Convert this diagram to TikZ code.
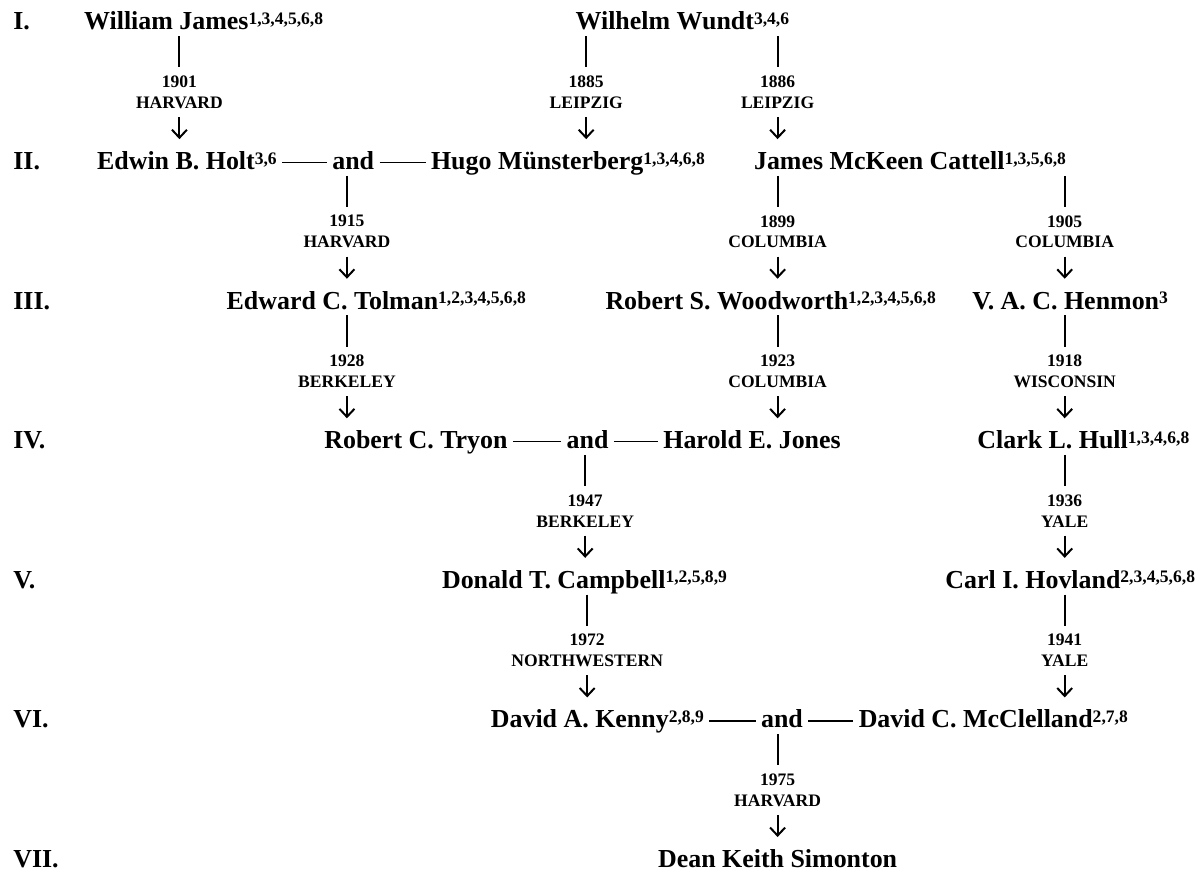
\documentclass[tikz,border=0pt]{standalone}
\usepackage{fontspec}
\setmainfont{Liberation Serif}
\usepackage{xcolor}
\usepackage{tikz}
\usetikzlibrary{arrows.meta}
\definecolor{ink}{HTML}{000000}
\newcommand{\authsup}[1]{\raisebox{2.7pt}{\fontsize{8.8}{9}\selectfont #1}}

\begin{document}
\begin{tikzpicture}[x=0.5pt, y=-0.5pt, every node/.style={color=ink, font=\bfseries\fontsize{13}{15}\selectfont},
  person/.style={anchor=base west, inner xsep=2.5pt, inner ysep=0pt, text height=15pt, text depth=3pt},
  gen/.style={anchor=base west, inner sep=0pt},
  when/.style={font=\bfseries\fontsize{8.8}{10.5}\selectfont, align=center, inner xsep=0pt, inner ysep=4pt},
  link/.style={ink, line width=1pt},
  pair/.style={ink, line width=0.75pt},
  descent/.style={ink, line width=1pt, -{Straight Barb[length=4pt,width=7.5pt]}}]
  \fill[white] (0,0) rectangle (1200,871);

  \node[gen] (g1) at (13,27) {I.};
  \node[gen] (g2) at (13,167) {II.};
  \node[gen] (g3) at (13,307) {III.};
  \node[gen] (g4) at (13,447) {IV.};
  \node[gen] (g5) at (13,587) {V.};
  \node[gen] (g6) at (13,727) {VI.};
  \node[gen] (g7) at (13,867) {VII.};

  \node[person] (james) at (79,27) {William James\authsup{1,3,4,5,6,8}};
  \node[person] (wundt) at (572,27) {Wilhelm Wundt\authsup{3,4,6}};

  \node[person] (holt) at (92,167) {Edwin B. Holt\authsup{3,6}};
  \node[person] (and1) at (328,167) {and};
  \node[person] (munst) at (427,167) {Hugo Münsterberg\authsup{1,3,4,6,8}};
  \node[person] (cattell) at (751,167) {James McKeen Cattell\authsup{1,3,5,6,8}};

  \node[person] (tolman) at (222,307) {Edward C. Tolman\authsup{1,2,3,4,5,6,8}};
  \node[person] (woodw) at (602,307) {Robert S. Woodworth\authsup{1,2,3,4,5,6,8}};
  \node[person] (henmon) at (970,307) {V. A. C. Henmon\authsup{3}};

  \node[person] (tryon) at (320,447) {Robert C. Tryon};
  \node[person] (and2) at (563,447) {and};
  \node[person] (jones) at (660,447) {Harold E. Jones};
  \node[person] (hull) at (975,447) {Clark L. Hull\authsup{1,3,4,6,8}};

  \node[person] (campbell) at (438,587) {Donald T. Campbell\authsup{1,2,5,8,9}};
  \node[person] (hovland) at (943,587) {Carl I. Hovland\authsup{2,3,4,5,6,8}};

  \node[person] (kenny) at (487,727) {David A. Kenny\authsup{2,8,9}};
  \node[person] (and3) at (758,727) {and};
  \node[person] (mccl) at (856,727) {David C. McClelland\authsup{2,7,8}};

  \node[person, anchor=base] (simonton) at (780,867) {Dean Keith Simonton};

  \node[when] (y1901) at (180,89.5) {1901\\HARVARD};
  \node[when] (y1885) at (588,89.5) {1885\\LEIPZIG};
  \node[when] (y1886) at (780,89.5) {1886\\LEIPZIG};
  \node[when] (y1915) at (348,229.5) {1915\\HARVARD};
  \node[when] (y1899) at (780,229.5) {1899\\COLUMBIA};
  \node[when] (y1905) at (1068,229.5) {1905\\COLUMBIA};
  \node[when] (y1928) at (348,369.5) {1928\\BERKELEY};
  \node[when] (y1923) at (780,369.5) {1923\\COLUMBIA};
  \node[when] (y1918) at (1068,369.5) {1918\\WISCONSIN};
  \node[when] (y1947) at (587,509.5) {1947\\BERKELEY};
  \node[when] (y1936) at (1068,509.5) {1936\\YALE};
  \node[when] (y1972) at (589,649.5) {1972\\NORTHWESTERN};
  \node[when] (y1941) at (1068,649.5) {1941\\YALE};
  \node[when] (y1975) at (780,789.5) {1975\\HARVARD};

  \draw[pair] ([yshift=3.5pt]holt.base east) -- ([yshift=3.5pt]and1.base west);
  \draw[pair] ([yshift=3.5pt]and1.base east) -- ([yshift=3.5pt]munst.base west);
  \draw[pair] ([yshift=3.5pt]tryon.base east) -- ([yshift=3.5pt]and2.base west);
  \draw[pair] ([yshift=3.5pt]and2.base east) -- ([yshift=3.5pt]jones.base west);
  \draw[pair] ([yshift=3.5pt]kenny.base east) -- ([yshift=3.5pt]and3.base west);
  \draw[pair] ([yshift=3.5pt]and3.base east) -- ([yshift=3.5pt]mccl.base west);

  \draw[link] (y1901.north |- james.south) -- (y1901.north);
  \draw[descent] (y1901.south) -- (y1901.south |- holt.north);
  \draw[link] (y1885.north |- wundt.south) -- (y1885.north);
  \draw[descent] (y1885.south) -- (y1885.south |- munst.north);
  \draw[link] (y1886.north |- wundt.south) -- (y1886.north);
  \draw[descent] (y1886.south) -- (y1886.south |- cattell.north);

  \draw[link] (y1915.north |- and1.south) -- (y1915.north);
  \draw[descent] (y1915.south) -- (y1915.south |- tolman.north);
  \draw[link] (y1899.north |- cattell.south) -- (y1899.north);
  \draw[descent] (y1899.south) -- (y1899.south |- woodw.north);
  \draw[link] (y1905.north |- cattell.south) -- (y1905.north);
  \draw[descent] (y1905.south) -- (y1905.south |- henmon.north);

  \draw[link] (y1928.north |- tolman.south) -- (y1928.north);
  \draw[descent] (y1928.south) -- (y1928.south |- tryon.north);
  \draw[link] (y1923.north |- woodw.south) -- (y1923.north);
  \draw[descent] (y1923.south) -- (y1923.south |- jones.north);
  \draw[link] (y1918.north |- henmon.south) -- (y1918.north);
  \draw[descent] (y1918.south) -- (y1918.south |- hull.north);

  \draw[link] (y1947.north |- and2.south) -- (y1947.north);
  \draw[descent] (y1947.south) -- (y1947.south |- campbell.north);
  \draw[link] (y1936.north |- hull.south) -- (y1936.north);
  \draw[descent] (y1936.south) -- (y1936.south |- hovland.north);

  \draw[link] (y1972.north |- campbell.south) -- (y1972.north);
  \draw[descent] (y1972.south) -- (y1972.south |- kenny.north);
  \draw[link] (y1941.north |- hovland.south) -- (y1941.north);
  \draw[descent] (y1941.south) -- (y1941.south |- mccl.north);

  \draw[link] (y1975.north |- and3.south) -- (y1975.north);
  \draw[descent] (y1975.south) -- (y1975.south |- simonton.north);
\end{tikzpicture}
\end{document}
